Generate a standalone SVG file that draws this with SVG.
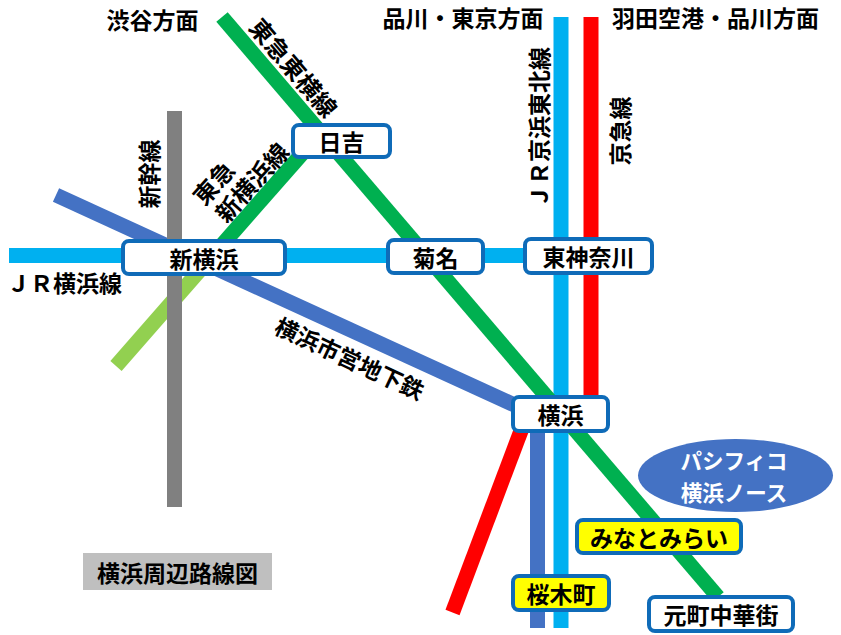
<svg xmlns="http://www.w3.org/2000/svg" width="841" height="635" viewBox="0 0 841 635">
<style>
  text { font-family: "Noto Sans CJK JP", "Noto Sans CJK SC", sans-serif; font-weight: bold; font-size: 23px; fill: #000; dominant-baseline: central; text-anchor: middle; }
  .ln { fill: none; stroke-width: 15; stroke-linecap: butt; }
  .st { fill: #fff; stroke: #0F6BB8; stroke-width: 4; }
  .sty { fill: #FFFF00; stroke: #0F6BB8; stroke-width: 4; }
  .w { fill: #fff; font-size: 21.5px; }
</style>
<rect width="841" height="635" fill="#fff"/>

<g id="connectors">
  <line class="ln" x1="9" y1="255.5" x2="561" y2="255.5" stroke="#00B0F0"/>
  <line class="ln" x1="561" y1="17" x2="561" y2="628" stroke="#00B0F0"/>
  <line class="ln" x1="591" y1="17" x2="591" y2="416" stroke="#FF0000"/>
  <line class="ln" x1="527" y1="415" x2="452.5" y2="612.5" stroke="#FF0000"/>
  <line class="ln" x1="56" y1="195" x2="534" y2="414" stroke="#4472C4"/>
  <line class="ln" x1="537.5" y1="410" x2="537.5" y2="628" stroke="#4472C4"/>
  <line class="ln" x1="211.4" y1="257" x2="116" y2="366" stroke="#92D050"/>
  <line class="ln" x1="174.5" y1="111" x2="174.5" y2="507" stroke="#808080"/>
  <line class="ln" x1="222" y1="17" x2="718" y2="597" stroke="#00B050"/>
  <line class="ln" x1="308" y1="147" x2="211.4" y2="257" stroke="#00B050"/>
</g>

<g id="labels">
  <text x="152.5" y="19">渋谷方面</text>
  <text x="463" y="17">品川・東京方面</text>
  <text x="715.5" y="17">羽田空港・品川方面</text>
  <text x="7" y="282" style="text-anchor:start">ＪＲ横浜線</text>
  <text transform="translate(148,174) rotate(-90)">新幹線</text>
  <text transform="translate(537.5,127.5) rotate(-90)">ＪＲ京浜東北線</text>
  <text transform="translate(619,131) rotate(-90)">京急線</text>
  <text transform="translate(294.5,67) rotate(49.8)" style="font-size:24px">東急東横線</text>
  <g transform="translate(251,181.5) rotate(-48)">
    <text x="0" y="0" style="font-size:24px">新横浜線</text>
    <text x="-50" y="-28" style="font-size:24px;text-anchor:start">東急</text>
  </g>
  <text transform="translate(350,357.5) rotate(25)">横浜市営地下鉄</text>
</g>

<g id="st-hiyoshi"><rect class="st" x="293" y="125" width="97" height="32" rx="6"/><text x="341.5" y="141">日吉</text></g>
<g id="st-shinyokohama"><rect class="st" x="123" y="241" width="162" height="33" rx="6"/><text x="204" y="257.5">新横浜</text></g>
<g id="st-kikuna"><rect class="st" x="388" y="240" width="95" height="33" rx="6"/><text x="435.5" y="256.5">菊名</text></g>
<g id="st-higashikanagawa"><rect class="st" x="525" y="239" width="127" height="34" rx="6"/><text x="588.5" y="256">東神奈川</text></g>
<g id="st-yokohama"><rect class="st" x="513" y="397" width="95" height="34" rx="6"/><text x="560.5" y="414">横浜</text></g>
<g id="st-minatomirai"><rect class="sty" x="577" y="520" width="164" height="33" rx="6"/><text x="659" y="536.5">みなとみらい</text></g>
<g id="st-sakuragicho"><rect class="sty" x="513" y="576" width="96" height="34" rx="6"/><text x="561" y="593">桜木町</text></g>
<g id="st-motomachi"><rect class="st" x="649" y="597" width="144" height="34" rx="6"/><text x="721" y="614">元町中華街</text></g>
<g id="pacifico"><ellipse cx="735.5" cy="475.5" rx="97.5" ry="36.5" fill="#4472C4"/><text class="w" x="734" y="459.8">パシフィコ</text><text class="w" x="734" y="491.5">横浜ノース</text></g>
<g id="title"><rect x="83" y="553" width="189" height="37" fill="#BFBFBF"/><text x="177.5" y="571.5">横浜周辺路線図</text></g>
</svg>
